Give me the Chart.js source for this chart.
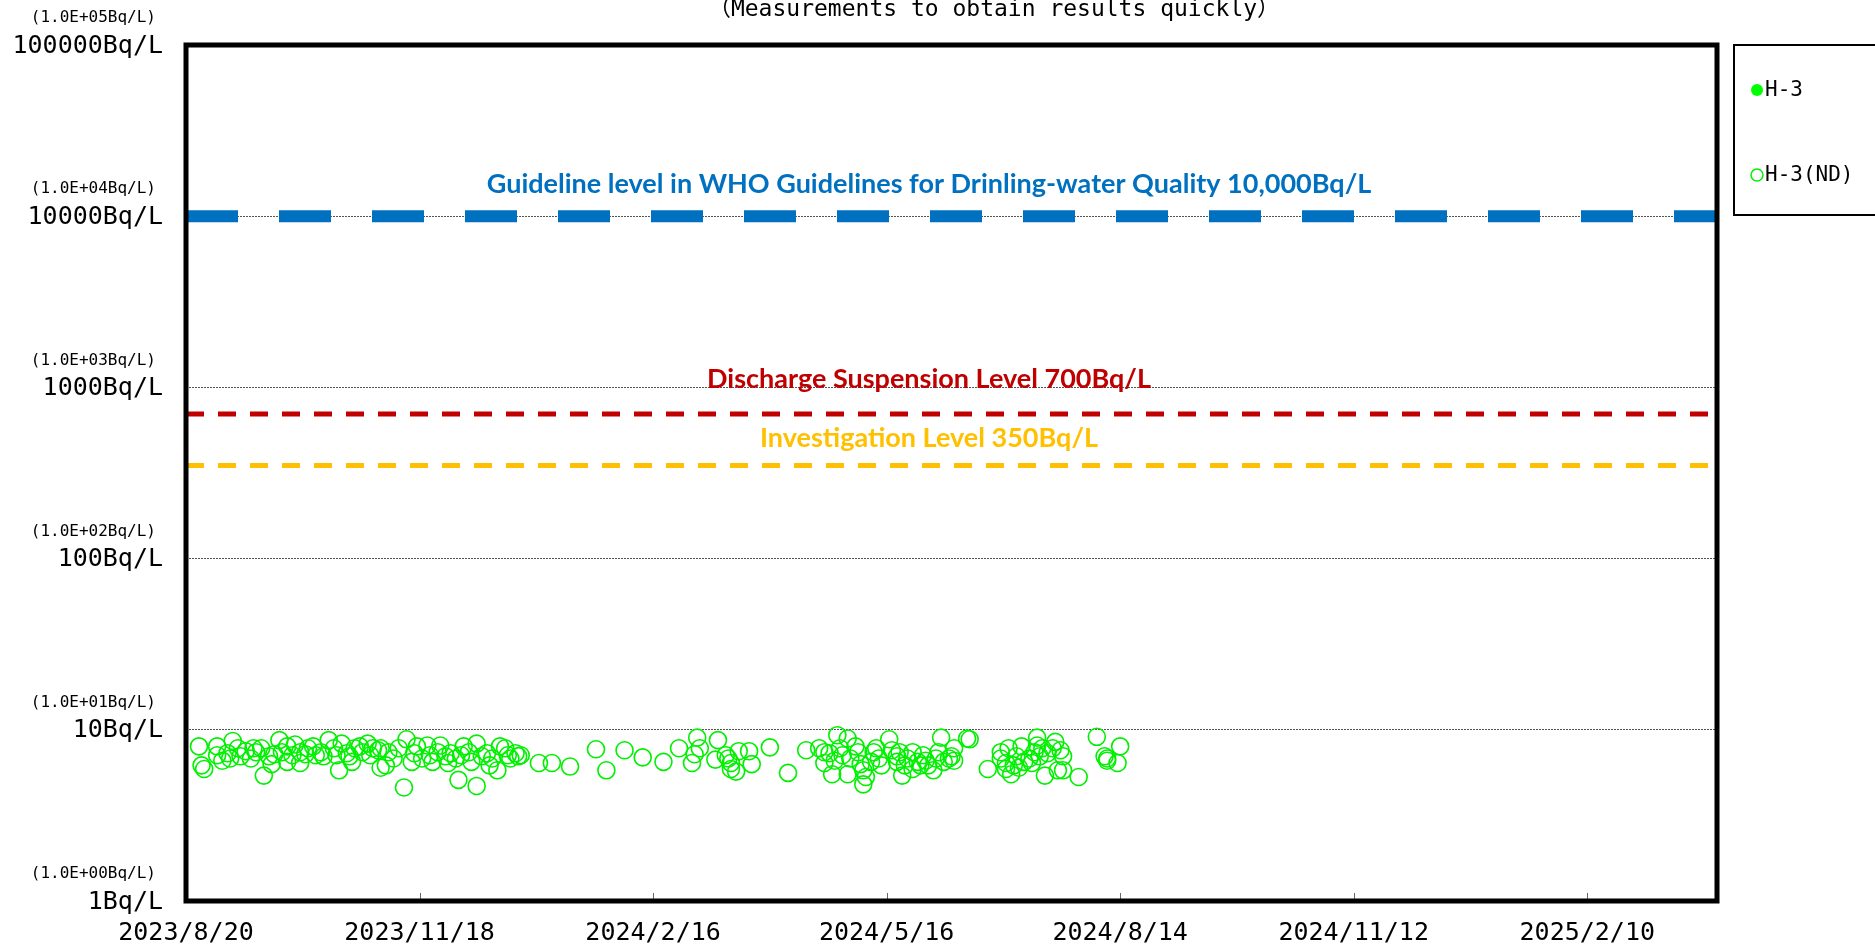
<!DOCTYPE html>
<html>
<head>
<meta charset="utf-8">
<title>H-3</title>
<script src="https://cdn.jsdelivr.net/npm/chart.js@4.4.1/dist/chart.umd.min.js"></script>
<style>
    html, body { margin: 0; padding: 0; background: #fff; }
    #wrap { width: 1875px; height: 951px; }
</style>
</head>
<body>
<div id="wrap"><canvas id="chart" width="1875" height="951"></canvas></div>
<script>

// DATA BEGIN

const startDate = '2023-08-20';
const endDate = '2025-04-01';
const tickStepDays = 90;

const yTickValues = [1, 10, 100, 1000, 10000, 100000];
const yTickLabels = ['1Bq/L', '10Bq/L', '100Bq/L', '1000Bq/L', '10000Bq/L', '100000Bq/L'];
const yTickSubLabels = ['(1.0E+00Bq/L)', '(1.0E+01Bq/L)', '(1.0E+02Bq/L)', '(1.0E+03Bq/L)', '(1.0E+04Bq/L)', '(1.0E+05Bq/L)'];

// detected values: none in this period
const h3Dates = [];
const h3Values = [];

// not detected (below detection limit)
const ndDates = [
    '2023-08-25','2023-08-26','2023-08-27','2023-09-01','2023-09-01','2023-09-03','2023-09-05','2023-09-06','2023-09-07','2023-09-09',
    '2023-09-10','2023-09-12','2023-09-14','2023-09-15','2023-09-16','2023-09-18','2023-09-19','2023-09-21','2023-09-22','2023-09-23',
    '2023-09-25','2023-09-26','2023-09-28','2023-09-28','2023-09-30','2023-10-01','2023-10-03','2023-10-03','2023-10-05','2023-10-06',
    '2023-10-08','2023-10-09','2023-10-11','2023-10-12','2023-10-14','2023-10-16','2023-10-17','2023-10-18','2023-10-19','2023-10-21',
    '2023-10-22','2023-10-23','2023-10-24','2023-10-26','2023-10-27','2023-10-29','2023-10-30','2023-10-31','2023-11-02','2023-11-03',
    '2023-11-03','2023-11-05','2023-11-06','2023-11-08','2023-11-10','2023-11-12','2023-11-13','2023-11-15','2023-11-16','2023-11-17',
    '2023-11-19','2023-11-21','2023-11-22','2023-11-23','2023-11-25','2023-11-26','2023-11-28','2023-11-29','2023-11-30','2023-12-02',
    '2023-12-03','2023-12-04','2023-12-05','2023-12-07','2023-12-08','2023-12-10','2023-12-10','2023-12-12','2023-12-14','2023-12-15',
    '2023-12-16','2023-12-18','2023-12-19','2023-12-21','2023-12-22','2023-12-23','2023-12-25','2023-12-26','2023-12-27','2024-01-03',
    '2024-01-08','2024-01-15','2024-01-25','2024-01-29','2024-02-05','2024-02-12','2024-02-20','2024-02-26','2024-03-02','2024-03-03',
    '2024-03-04','2024-03-05','2024-03-11','2024-03-12','2024-03-15','2024-03-16','2024-03-17','2024-03-17','2024-03-19','2024-03-20',
    '2024-03-24','2024-03-25','2024-04-01','2024-04-08','2024-04-15','2024-04-20','2024-04-22','2024-04-22','2024-04-24','2024-04-25',
    '2024-04-26','2024-04-27','2024-04-28','2024-04-29','2024-05-01','2024-05-01','2024-05-02','2024-05-04','2024-05-05','2024-05-06',
    '2024-05-07','2024-05-07','2024-05-08','2024-05-10','2024-05-11','2024-05-12','2024-05-13','2024-05-14','2024-05-17','2024-05-18',
    '2024-05-20','2024-05-20','2024-05-21','2024-05-22','2024-05-23','2024-05-24','2024-05-26','2024-05-26','2024-05-28','2024-05-29',
    '2024-05-30','2024-05-31','2024-06-01','2024-06-03','2024-06-04','2024-06-05','2024-06-06','2024-06-07','2024-06-09','2024-06-10',
    '2024-06-11','2024-06-11','2024-06-16','2024-06-17','2024-06-24','2024-06-29','2024-06-29','2024-07-01','2024-07-01','2024-07-02',
    '2024-07-03','2024-07-04','2024-07-05','2024-07-06','2024-07-07','2024-07-08','2024-07-10','2024-07-11','2024-07-12','2024-07-13',
    '2024-07-13','2024-07-14','2024-07-15','2024-07-16','2024-07-17','2024-07-19','2024-07-20','2024-07-21','2024-07-22','2024-07-23',
    '2024-07-23','2024-07-29','2024-08-05','2024-08-08','2024-08-09','2024-08-09','2024-08-13','2024-08-14'
];
const ndValues = [
    8.0, 6.2, 5.9, 8.0, 7.1, 6.6, 7.3, 6.8, 8.6, 7.8,
    7.0, 7.5, 6.8, 7.8, 7.4, 7.8, 5.4, 7.0, 6.3, 7.2,
    8.7, 7.4, 6.5, 8.0, 7.1, 8.2, 7.4, 6.4, 7.2, 7.8,
    8.0, 7.1, 7.4, 7.0, 8.7, 7.8, 7.1, 5.8, 8.3, 7.3,
    7.0, 6.5, 7.8, 8.0, 7.4, 8.3, 7.1, 7.8, 7.6, 6.0,
    7.8, 6.2, 7.4, 6.8, 7.8, 4.6, 8.8, 6.5, 7.3, 8.0,
    6.8, 8.1, 7.1, 6.5, 7.4, 8.1, 7.0, 6.4, 7.3, 6.8,
    5.1, 7.1, 8.0, 7.4, 6.5, 8.3, 4.7, 7.0, 7.3, 6.2,
    6.8, 5.8, 8.0, 7.8, 7.1, 6.8, 7.3, 7.0, 7.1, 6.4,
    6.4, 6.1, 7.7, 5.8, 7.6, 6.9, 6.5, 7.8, 6.4, 7.2,
    9.0, 7.8, 6.7, 8.7, 7.1, 6.8, 6.4, 5.9, 5.7, 7.5,
    7.5, 6.3, 7.9, 5.6, 7.6, 7.8, 7.4, 6.4, 7.3, 5.5,
    6.6, 9.3, 7.8, 7.1, 5.5, 8.9, 6.8, 8.0, 7.4, 6.3,
    5.8, 4.8, 5.3, 6.5, 7.4, 7.8, 6.8, 6.2, 8.8, 7.6,
    7.0, 6.5, 7.4, 5.4, 6.2, 6.8, 5.9, 7.4, 6.5, 6.2,
    7.1, 6.6, 6.2, 5.8, 6.8, 7.4, 9.0, 6.5, 6.8, 7.0,
    7.8, 6.6, 8.9, 8.8, 5.9, 7.4, 6.8, 6.4, 5.9, 7.8,
    5.5, 6.2, 7.0, 6.0, 8.0, 6.5, 6.8, 6.4, 7.4, 9.0,
    8.1, 7.0, 7.8, 5.4, 7.3, 7.8, 8.5, 5.8, 7.6, 7.0,
    5.8, 5.3, 9.1, 7.0, 6.6, 6.8, 6.4, 8.0
];

const levelValues = [10000, 700, 350];
const levelLabels = [
    'Guideline level in WHO Guidelines for Drinling-water Quality 10,000Bq/L',
    'Discharge Suspension Level 700Bq/L',
    'Investigation Level 350Bq/L'
];
const levelColors = ['#0070C0', '#C00000', '#FFC000'];

const chartTitle = '（Measurements to obtain results quickly）';

// DATA END

// HELPERS BEGIN

const DAY = 86400000;
const t0 = Date.parse(startDate);

function toDay(s)
{
    return (Date.parse(s) - t0) / DAY;
}

function dayLabel(d)
{
    let dt = new Date(t0 + d * DAY);
    return dt.getUTCFullYear() + '/' + (dt.getUTCMonth() + 1) + '/' + dt.getUTCDate();
}

function points(dates, values)
{
    return dates.map((d, i) => ({ x: toDay(d), y: values[i] }));
}

const xMax = toDay(endDate);
let xTicks = [];
for (let d = 0; d < xMax; d += tickStepDays)
    xTicks.push(d);

const mono = '"DejaVu Sans Mono", "Noto Sans CJK JP", monospace';

// HELPERS END

// DECORATION PLUGIN BEGIN

const decor = {
    id: 'decor',
    afterDatasetsDraw(chart)
    {
        let ctx = chart.ctx;
        let a = chart.chartArea;
        let xs = chart.scales.x;
        let ys = chart.scales.y;

        ctx.save();

        // level captions
        let offsets = [-32, -35, -27];
        ctx.font = 'bold 27px Lato, "Open Sans", sans-serif';
        ctx.textAlign = 'center';
        ctx.textBaseline = 'middle';
        levelValues.forEach((v, i) =>
        {
            ctx.fillStyle = levelColors[i];
            ctx.fillText(levelLabels[i], 929, ys.getPixelForValue(v) + offsets[i]);
        });

        // small tick marks inside the bottom axis
        ctx.strokeStyle = '#666';
        ctx.lineWidth = 1;
        xs.ticks.forEach(t =>
        {
            let x = Math.round(xs.getPixelForValue(t.value)) + 0.5;
            ctx.beginPath();
            ctx.moveTo(x, a.bottom);
            ctx.lineTo(x, a.bottom - 8);
            ctx.stroke();
        });

        // plot frame
        ctx.strokeStyle = '#000';
        ctx.lineWidth = 5;
        ctx.strokeRect(a.left, a.top, a.right - a.left, a.bottom - a.top);

        ctx.restore();
    },
    afterDraw(chart)
    {
        let ctx = chart.ctx;
        let ys = chart.scales.y;

        ctx.save();
        ctx.fillStyle = '#000';
        ctx.textAlign = 'right';
        ctx.textBaseline = 'middle';

        // y labels, two lines each
        yTickValues.forEach((v, i) =>
        {
            let y = ys.getPixelForValue(v);
            ctx.font = '25px ' + mono;
            ctx.fillText(yTickLabels[i], 163, y + 1);
            ctx.font = '16px ' + mono;
            ctx.fillText(yTickSubLabels[i], 156, y - 27);
        });

        // title
        ctx.textAlign = 'center';
        ctx.font = '23px ' + mono;
        ctx.fillText(chartTitle, 994, 10);

        // legend
        ctx.strokeStyle = '#000';
        ctx.lineWidth = 2;
        ctx.strokeRect(1734, 45, 200, 170);
        let rows = [90, 175];
        chart.data.datasets.filter(ds => ds.legend).forEach((ds, i) =>
        {
            let y = rows[i];
            ctx.beginPath();
            ctx.arc(1757, y, 6, 0, Math.PI * 2);
            if (ds.backgroundColor !== 'transparent')
            {
                ctx.fillStyle = ds.backgroundColor;
                ctx.fill();
            }
            else
            {
                ctx.strokeStyle = ds.borderColor;
                ctx.lineWidth = 1.5;
                ctx.stroke();
            }
            ctx.fillStyle = '#000';
            ctx.textAlign = 'left';
            ctx.font = '21px ' + mono;
            ctx.fillText(ds.label, 1765, y + 1);
        });

        ctx.restore();
    }
};

// DECORATION PLUGIN END

// CHART BEGIN

function levelLine(i, width, dash)
{
    return {
        type: 'line',
        label: levelLabels[i],
        data: [{ x: 0, y: levelValues[i] }, { x: xMax, y: levelValues[i] }],
        borderColor: levelColors[i],
        borderWidth: width,
        borderDash: dash,
        borderCapStyle: 'butt',
        pointRadius: 0,
        order: 2
    };
}

let ctx = document.getElementById('chart').getContext('2d');
new Chart(ctx,
{
    type: 'scatter',
    data: {
        datasets: [
            {
                label: 'H-3',
                legend: true,
                data: points(h3Dates, h3Values),
                backgroundColor: '#00FF00',
                borderColor: '#00FF00',
                pointRadius: 8,
                order: 0
            },
            {
                label: 'H-3(ND)',
                legend: true,
                data: points(ndDates, ndValues),
                backgroundColor: 'transparent',
                borderColor: '#00F000',
                borderWidth: 1.6,
                pointRadius: 8.5,
                order: 0
            },
            levelLine(0, 12, [52, 41]),
            levelLine(1, 5, [18, 14]),
            levelLine(2, 5, [18, 14])
        ]
    },
    options: {
        responsive: false,
        devicePixelRatio: 1,
        animation: false,
        layout: { padding: { top: 45, right: 158, bottom: 0, left: 0 } },
        plugins: {
            legend: { display: false },
            tooltip: { enabled: false }
        },
        scales: {
            x: {
                type: 'linear',
                min: 0,
                max: xMax,
                afterBuildTicks: s => { s.ticks = xTicks.map(v => ({ value: v })); },
                afterFit: s => { s.height = 50; },
                grid: { display: false, drawTicks: false },
                border: { display: false },
                ticks: {
                    callback: v => dayLabel(v),
                    font: { family: mono, size: 25 },
                    color: '#000',
                    padding: 17,
                    maxRotation: 0,
                    autoSkip: false
                }
            },
            y: {
                type: 'logarithmic',
                min: 1,
                max: 100000,
                afterBuildTicks: s => { s.ticks = yTickValues.map(v => ({ value: v })); },
                afterFit: s => { s.width = 186; },
                grid: { color: '#555', lineWidth: 1, drawTicks: false },
                border: { display: false, dash: [2, 1] },
                ticks: { display: false }
            }
        }
    },
    plugins: [decor]
});

// CHART END

</script>
</body>
</html>
